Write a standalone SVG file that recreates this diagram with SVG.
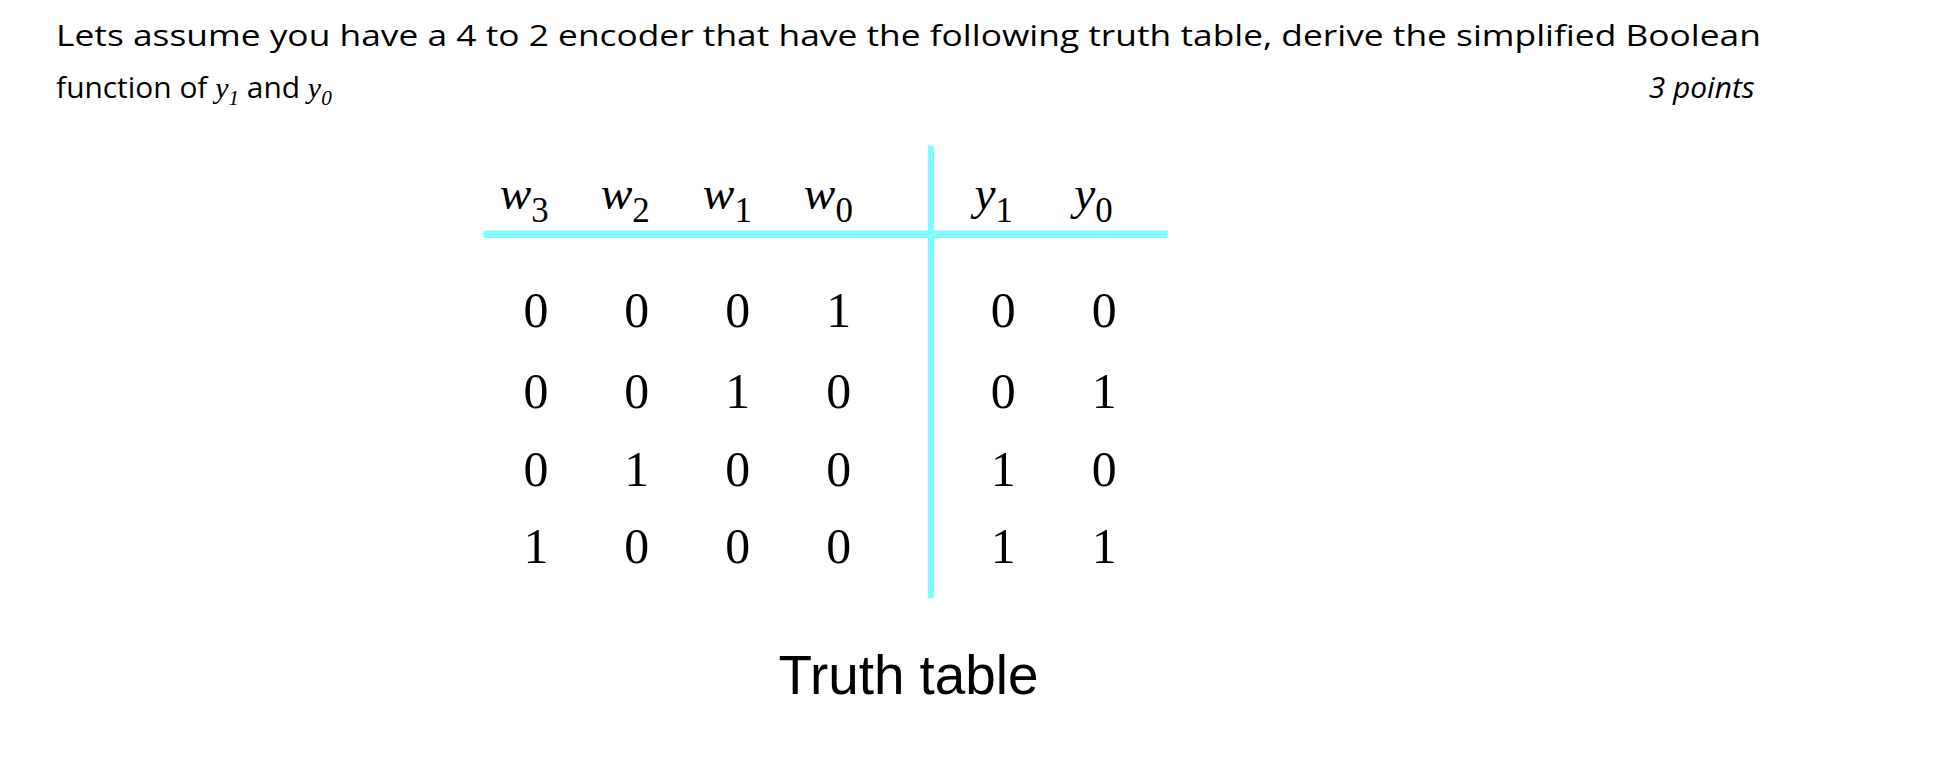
<svg xmlns="http://www.w3.org/2000/svg" width="1954" height="764" viewBox="0 0 1954 764">
<style>
.q{font-family:"Open Sans","Liberation Sans",sans-serif;font-size:24px;fill:#000}
.m{font-family:"Liberation Serif",serif;font-style:italic}
.h{font-family:"Liberation Serif",serif;font-size:38px;font-style:italic;fill:#000}
.s{font-size:28px;font-style:normal}
.d{font-family:"Liberation Serif",serif;font-size:40px;fill:#000;text-anchor:middle}
</style>
<rect width="1954" height="764" fill="#fff"/>
<g transform="scale(1.2462)">
<g id="question">
<text class="q" x="45" y="37" textLength="1368" lengthAdjust="spacingAndGlyphs">Lets assume you have a 4 to 2 encoder that have the following truth table, derive the simplified Boolean</text>
<text class="q" x="45" y="79">function of <tspan class="m">y</tspan><tspan class="m" font-size="17" font-style="normal" dy="5">1</tspan><tspan dy="-5"> and </tspan><tspan class="m">y</tspan><tspan class="m" font-size="17" font-style="normal" dy="5">0</tspan></text>
<text class="q" x="1408" y="79" text-anchor="end" fill="#e8302a" font-style="italic">3 points</text>
</g>
<g id="table">
<g id="lines" stroke="#80fcff">
<line x1="388" y1="188" x2="937" y2="188" stroke-width="6"/>
<line x1="747" y1="117" x2="747" y2="480" stroke-width="5"/>
</g>
<g id="header">
<text class="h" x="401" y="168">w<tspan class="s" dy="10">3</tspan></text>
<text class="h" x="482" y="168">w<tspan class="s" dy="10">2</tspan></text>
<text class="h" x="564" y="168">w<tspan class="s" dy="10">1</tspan></text>
<text class="h" x="645" y="168">w<tspan class="s" dy="10">0</tspan></text>
<text class="h" x="782" y="168">y<tspan class="s" dy="10">1</tspan></text>
<text class="h" x="862" y="168">y<tspan class="s" dy="10">0</tspan></text>
</g>
<g id="rows">
<text class="d" y="262"><tspan x="430">0</tspan><tspan x="511">0</tspan><tspan x="592">0</tspan><tspan x="673">1</tspan><tspan x="805">0</tspan><tspan x="886">0</tspan></text>
<text class="d" y="327"><tspan x="430">0</tspan><tspan x="511">0</tspan><tspan x="592">1</tspan><tspan x="673">0</tspan><tspan x="805">0</tspan><tspan x="886">1</tspan></text>
<text class="d" y="390"><tspan x="430">0</tspan><tspan x="511">1</tspan><tspan x="592">0</tspan><tspan x="673">0</tspan><tspan x="805">1</tspan><tspan x="886">0</tspan></text>
<text class="d" y="452"><tspan x="430">1</tspan><tspan x="511">0</tspan><tspan x="592">0</tspan><tspan x="673">0</tspan><tspan x="805">1</tspan><tspan x="886">1</tspan></text>
</g>
<text id="caption" x="729" y="557" text-anchor="middle" font-family="Liberation Sans,Arial,sans-serif" font-size="44" fill="#000">Truth table</text>
</g>
</g>
</svg>
